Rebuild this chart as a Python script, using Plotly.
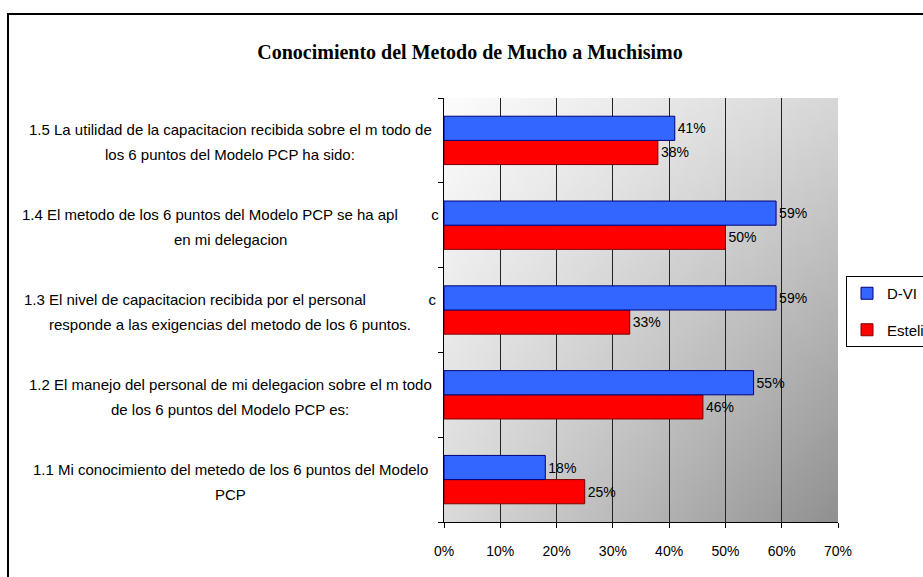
import base64, struct, zlib
import plotly.graph_objects as go

# ---- data ----
categories = ["1.1", "1.2", "1.3", "1.4", "1.5"]
category_labels = [
    "1.1 Mi conocimiento del metedo de los 6 puntos del Modelo<br>PCP",
    "1.2 El manejo del personal de mi delegacion sobre el m todo<br>de los 6 puntos del Modelo PCP es:",
    "1.3 El nivel de capacitacion recibida por el personal\u00a0\u00a0\u00a0\u00a0\u00a0\u00a0\u00a0\u00a0\u00a0\u00a0\u00a0\u00a0\u00a0\u00a0\u00a0c<br>responde a las exigencias del metodo de los 6 puntos.",
    "1.4 El metodo de los 6 puntos del Modelo PCP se ha apl\u00a0\u00a0\u00a0\u00a0\u00a0\u00a0\u00a0\u00a0c<br>en mi delegacion",
    "1.5 La utilidad de la capacitacion recibida sobre el m todo de<br>los 6 puntos del Modelo PCP ha sido:",
]
dvi_values = [18, 55, 59, 59, 41]
esteli_values = [25, 46, 33, 50, 38]
series_names = ["D-VI", "Esteli"]
x_ticks = [0, 10, 20, 30, 40, 50, 60, 70]
title_text = "Conocimiento del Metodo de Mucho a Muchisimo"

FONT = "Liberation Sans, Arial, sans-serif"
FS = 14
FS_LAB = 15


# ---- gradient background image (PNG built with stdlib) ----
def make_png(w, h, tl, tr, bl, br):
    raw = bytearray()
    for j in range(h):
        v = j / (h - 1)
        raw.append(0)
        for i in range(w):
            u = i / (w - 1)
            c = (tl * (1 - u) * (1 - v) + tr * u * (1 - v) + bl * (1 - u) * v + br * u * v)
            c = int(round(c))
            raw += bytes((c, c, c))

    def chunk(t, d):
        return struct.pack(">I", len(d)) + t + d + struct.pack(">I", zlib.crc32(t + d) & 0xffffffff)

    data = b"\x89PNG\r\n\x1a\n"
    data += chunk(b"IHDR", struct.pack(">IIBBBBB", w, h, 8, 2, 0, 0, 0))
    data += chunk(b"IDAT", zlib.compress(bytes(raw), 9))
    data += chunk(b"IEND", b"")
    return "data:image/png;base64," + base64.b64encode(data).decode()


bg_uri = make_png(64, 64, 252, 215, 218, 145)

fig = go.Figure()
fig.add_trace(go.Bar(
    y=categories, x=esteli_values, name=series_names[1], orientation="h",
    marker=dict(color="#FF0000", line=dict(color="#7a0000", width=1)),
    text=[f"{v}%" for v in esteli_values], textposition="outside",
    textfont=dict(family=FONT, size=FS, color="black"),
    constraintext="none", cliponaxis=False, legendgroup="b", legendrank=2,
))
fig.add_trace(go.Bar(
    y=categories, x=dvi_values, name=series_names[0], orientation="h",
    marker=dict(color="#3366FF", line=dict(color="#00007a", width=1)),
    text=[f"{v}%" for v in dvi_values], textposition="outside",
    textfont=dict(family=FONT, size=FS, color="black"),
    constraintext="none", cliponaxis=False, legendgroup="a", legendrank=1,
))

L, R, T, B = 444, 923 - 838, 98, 577 - 522
PW, PH = 923 - L - R, 577 - T - B

def px_x(p):
    return (p - L) / PW

def px_y(p):
    return (577 - B - p) / PH

LINE_STEP = 25
annotations = []
for idx, lab in enumerate(category_labels):
    lines = lab.split("<br>")
    n = len(lines)
    for k, line in enumerate(lines):
        annotations.append(dict(
            x=px_x(230), xref="paper", y=idx, yref="y", text=line, showarrow=False,
            xanchor="center", yanchor="middle", align="center",
            yshift=((n - 1) / 2 - k) * LINE_STEP - 2,
            font=dict(family=FONT, size=FS_LAB, color="black"),
        ))

fig.update_layout(
    width=923, height=577,
    margin=dict(l=L, r=R, t=T, b=B, autoexpand=False),
    paper_bgcolor="white", plot_bgcolor="rgba(0,0,0,0)",
    barmode="group", bargap=0.43, bargroupgap=0,
    title=dict(text=title_text, x=470 / 923, xref="container", xanchor="center",
               y=1 - 52 / 577, yref="container", yanchor="middle",
               font=dict(family="Liberation Serif, Times New Roman, serif", size=20, color="black", weight="bold")),
    font=dict(family=FONT, size=FS, color="black"),
    showlegend=True,
    legend=dict(x=px_x(846), y=px_y(276), xref="paper", yref="paper", xanchor="left", yanchor="top",
                traceorder="grouped", tracegroupgap=14,
                bordercolor="black", borderwidth=1, bgcolor="white",
                font=dict(family=FONT, size=FS_LAB, color="black"), itemwidth=30),
    images=[dict(source=bg_uri, xref="paper", yref="paper", x=0, y=1, sizex=1, sizey=1,
                 sizing="stretch", layer="below", xanchor="left", yanchor="top")],
    annotations=annotations,
    shapes=[dict(type="rect", xref="paper", yref="paper",
                 x0=px_x(8), x1=px_x(940), y0=px_y(600), y1=px_y(14),
                 line=dict(color="black", width=2), fillcolor="rgba(0,0,0,0)", layer="below")],
)
fig.update_xaxes(range=[0, 70], tickvals=x_ticks, ticktext=[f"{v}%" for v in x_ticks],
                 showgrid=True, gridcolor="#222222", gridwidth=1,
                 showline=True, linecolor="black", linewidth=1,
                 ticks="outside", ticklen=5, tickcolor="black", ticklabelstandoff=11,
                 tickfont=dict(family=FONT, size=FS, color="black"), zeroline=False)
fig.update_yaxes(type="category", categoryorder="array", categoryarray=categories,
                 range=[-0.5, 4.5], showticklabels=False,
                 showline=True, linecolor="black", linewidth=1,
                 ticks="outside", ticklen=5, tickcolor="black", tickson="boundaries",
                 showgrid=False, zeroline=False)

fig.write_html("out.html")
